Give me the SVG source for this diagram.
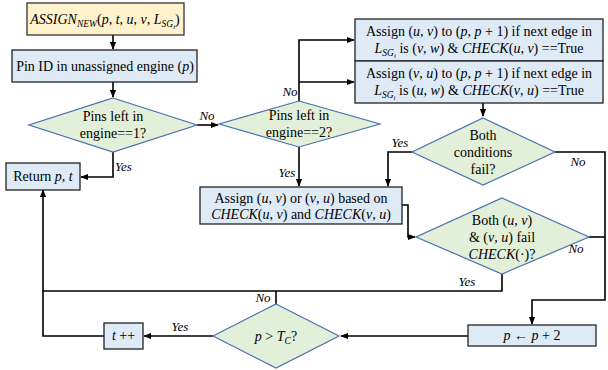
<svg xmlns="http://www.w3.org/2000/svg" width="608" height="370" viewBox="0 0 608 370" font-family="Liberation Serif, Times New Roman, serif">
<defs>
<style>
.t{font-size:14px;fill:#000;}
.m{font-style:italic;}
.s{font-size:9.5px;font-style:italic;}
.ss{font-size:7px;font-style:italic;}
.lbl{font-size:13px;font-style:italic;fill:#000;}
.box{fill:#deebf7;stroke:#222;stroke-width:1.3;}
.start{fill:#fff2cc;stroke:#333;stroke-width:1.3;}
.dia{fill:#e2f0d9;stroke:#4a6fb0;stroke-width:1.2;}
.c{fill:none;stroke:#000;stroke-width:1.6;}
</style>
<marker id="ah" viewBox="0 0 10 10" refX="9" refY="5" markerWidth="5" markerHeight="5" orient="auto" markerUnits="strokeWidth">
<path d="M0,1 L10,5 L0,9 z" fill="#000"/>
</marker>
</defs>
<rect width="608" height="370" fill="#fff"/>

<g id="connectors">
<path class="c" d="M113,35 V49" marker-end="url(#ah)"/>
<path class="c" d="M113,82 V97" marker-end="url(#ah)"/>
<path class="c" d="M197,125 H218" marker-end="url(#ah)"/>
<path class="c" d="M113,152 V177 H81" marker-end="url(#ah)"/>
<path class="c" d="M299,101 V40 H354" marker-end="url(#ah)"/>
<path class="c" d="M299,82 H354" marker-end="url(#ah)"/>
<path class="c" d="M483,103 V116" marker-end="url(#ah)"/>
<path class="c" d="M299,147 V186" marker-end="url(#ah)"/>
<path class="c" d="M412,152 H388 V186" marker-end="url(#ah)"/>
<path class="c" d="M555,152 H605 V300 H532 V324" marker-end="url(#ah)"/>
<path class="c" d="M589,237 H605"/>
<path class="c" d="M402,205 H408 V237 H415" marker-end="url(#ah)"/>
<path class="c" d="M502,274 V291 H43 V190" marker-end="url(#ah)"/>
<path class="c" d="M276,304 V291"/>
<path class="c" d="M104,336 H43 V291"/>
<path class="c" d="M213,336 H144" marker-end="url(#ah)"/>
<path class="c" d="M468,336 H341" marker-end="url(#ah)"/>
<text class="lbl" x="207" y="120" text-anchor="middle">No</text>
<text class="lbl" x="115" y="171">Yes</text>
<text class="lbl" x="290" y="96" text-anchor="middle">No</text>
<text class="lbl" x="287" y="177" text-anchor="middle">Yes</text>
<text class="lbl" x="400" y="147" text-anchor="middle">Yes</text>
<text class="lbl" x="578" y="166" text-anchor="middle">No</text>
<text class="lbl" x="576" y="253" text-anchor="middle">No</text>
<text class="lbl" x="467" y="286" text-anchor="middle">Yes</text>
<text class="lbl" x="263" y="302" text-anchor="middle">No</text>
<text class="lbl" x="180" y="331" text-anchor="middle">Yes</text>
</g>

<g id="n-assign">
<rect class="start" x="27" y="3" width="157" height="32"/>
<text class="t" x="105" y="24" text-anchor="middle"><tspan class="m">ASSIGN</tspan><tspan class="s" dy="3">NEW</tspan><tspan dy="-3">(</tspan><tspan class="m">p</tspan>, <tspan class="m">t</tspan>, <tspan class="m">u</tspan>, <tspan class="m">v</tspan>, <tspan class="m">L</tspan><tspan class="s" dy="3">SG</tspan><tspan class="ss" dy="2">i</tspan><tspan dy="-5">)</tspan></text>
</g>

<g id="n-pin">
<rect class="box" x="12" y="50" width="185" height="32"/>
<text class="t" x="105" y="71" text-anchor="middle">Pin ID in unassigned engine (<tspan class="m">p</tspan>)</text>
</g>

<g id="n-d1">
<polygon class="dia" points="113,98 197,125 113,152 29,125"/>
<text class="t" x="113" y="121" text-anchor="middle">Pins left in</text>
<text class="t" x="113" y="138" text-anchor="middle">engine==1?</text>
</g>

<g id="n-return">
<rect class="box" x="6" y="163" width="74" height="27"/>
<text class="t" x="43" y="181" text-anchor="middle">Return <tspan class="m">p</tspan>, <tspan class="m">t</tspan></text>
</g>

<g id="n-d2">
<polygon class="dia" points="299,101 380,124 299,147 219,124"/>
<text class="t" x="299" y="120" text-anchor="middle">Pins left in</text>
<text class="t" x="299" y="137" text-anchor="middle">engine==2?</text>
</g>

<g id="n-a1">
<rect class="box" x="355" y="19" width="248" height="42"/>
<text class="t" x="479" y="36" text-anchor="middle">Assign (<tspan class="m">u</tspan>, <tspan class="m">v</tspan>) to (<tspan class="m">p</tspan>, <tspan class="m">p</tspan> + 1) if next edge in</text>
<text class="t" x="479" y="53" text-anchor="middle"><tspan class="m">L</tspan><tspan class="s" dy="3">SG</tspan><tspan class="ss" dy="2">i</tspan><tspan dy="-5"> is (</tspan><tspan class="m">v</tspan>, <tspan class="m">w</tspan>) &amp; <tspan class="m">CHECK</tspan>(<tspan class="m">u</tspan>, <tspan class="m">v</tspan>) ==True</text>
</g>

<g id="n-a2">
<rect class="box" x="355" y="61" width="248" height="42"/>
<text class="t" x="479" y="78" text-anchor="middle">Assign (<tspan class="m">v</tspan>, <tspan class="m">u</tspan>) to (<tspan class="m">p</tspan>, <tspan class="m">p</tspan> + 1) if next edge in</text>
<text class="t" x="479" y="95" text-anchor="middle"><tspan class="m">L</tspan><tspan class="s" dy="3">SG</tspan><tspan class="ss" dy="2">i</tspan><tspan dy="-5"> is (</tspan><tspan class="m">u</tspan>, <tspan class="m">w</tspan>) &amp; <tspan class="m">CHECK</tspan>(<tspan class="m">v</tspan>, <tspan class="m">u</tspan>) ==True</text>
</g>

<g id="n-d3">
<polygon class="dia" points="483,118 555,152 483,185 412,152"/>
<text class="t" x="483" y="140" text-anchor="middle">Both</text>
<text class="t" x="483" y="157" text-anchor="middle">conditions</text>
<text class="t" x="483" y="174" text-anchor="middle">fail?</text>
</g>

<g id="n-c">
<rect class="box" x="200" y="187" width="202" height="37"/>
<text class="t" x="301" y="203" text-anchor="middle">Assign (<tspan class="m">u</tspan>, <tspan class="m">v</tspan>) or (<tspan class="m">v</tspan>, <tspan class="m">u</tspan>) based on</text>
<text class="t" x="301" y="219" text-anchor="middle"><tspan class="m">CHECK</tspan>(<tspan class="m">u</tspan>, <tspan class="m">v</tspan>) and <tspan class="m">CHECK</tspan>(<tspan class="m">v</tspan>, <tspan class="m">u</tspan>)</text>
</g>

<g id="n-d4">
<polygon class="dia" points="502,198 589,237 502,274 416,237"/>
<text class="t" x="502" y="225" text-anchor="middle">Both (<tspan class="m">u</tspan>, <tspan class="m">v</tspan>)</text>
<text class="t" x="502" y="242" text-anchor="middle">&amp; (<tspan class="m">v</tspan>, <tspan class="m">u</tspan>) fail</text>
<text class="t" x="502" y="259" text-anchor="middle"><tspan class="m">CHECK</tspan>(·)?</text>
</g>

<g id="n-d5">
<polygon class="dia" points="276,304 339,336 276,368 213,336"/>
<text class="t" x="276" y="341" text-anchor="middle"><tspan class="m">p</tspan> &gt; <tspan class="m">T</tspan><tspan class="s" dy="3">C</tspan><tspan dy="-3">?</tspan></text>
</g>

<g id="n-tinc">
<rect class="box" x="104" y="323" width="39" height="26"/>
<text class="t" x="123.5" y="340" text-anchor="middle"><tspan class="m">t</tspan> ++</text>
</g>

<g id="n-pinc">
<rect class="box" x="468" y="325" width="128" height="21"/>
<text class="t" x="532" y="340" text-anchor="middle"><tspan class="m">p</tspan> ← <tspan class="m">p</tspan> + 2</text>
</g>
</svg>
